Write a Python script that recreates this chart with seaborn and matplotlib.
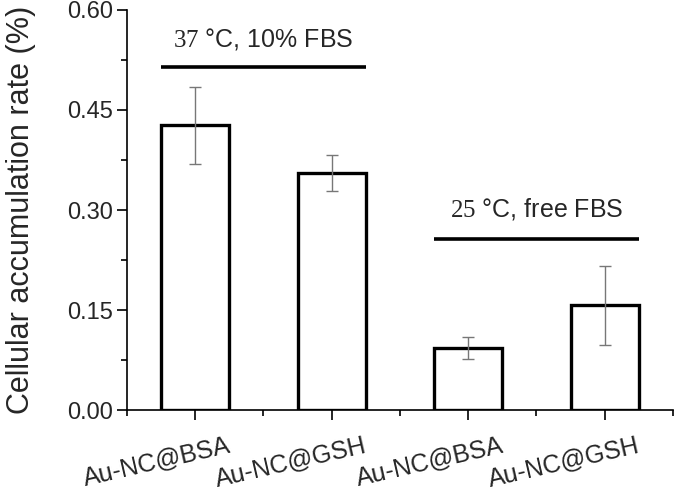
import matplotlib
matplotlib.use("Agg")
import matplotlib.pyplot as plt
import matplotlib.transforms as mtransforms
from matplotlib.ticker import MultipleLocator
import seaborn as sns
import pandas as pd

# ---- data ----
bar_ids = ["BSA_37", "GSH_37", "BSA_25", "GSH_25"]
tick_labels = ["Au-NC@BSA", "Au-NC@GSH", "Au-NC@BSA", "Au-NC@GSH"]
values = [0.427, 0.356, 0.093, 0.157]
errors = [0.058, 0.027, 0.017, 0.059]
group_labels = ["37", "25"]
group_texts = [" °C, 10% FBS", " °C, free FBS"]
group_members = [[0, 1], [2, 3]]
group_line_y = [0.515, 0.256]
group_text_y = [0.556, 0.302]
y_label = "Cellular accumulation rate (%)"

sns.set_theme(style="ticks")
plt.rcParams["font.family"] = ["Liberation Sans", "DejaVu Sans"]
plt.rcParams["mathtext.fontset"] = "custom"
plt.rcParams["mathtext.rm"] = "Liberation Serif"

df = pd.DataFrame({"id": bar_ids, "value": values})

fig = plt.figure(figsize=(6.75, 4.93), dpi=100)
ax = fig.add_axes([0.188, 0.168, 0.809, 0.812])

bw = 0.5
sns.barplot(data=df, x="id", y="value", order=bar_ids, ax=ax, width=bw,
            color="white", edgecolor="black", linewidth=2.4, errorbar=None,
            saturation=1)
ax.errorbar(range(len(values)), values, yerr=errors, fmt="none",
            ecolor="#777777", elinewidth=1.0, capsize=4, capthick=1.0, zorder=5)

ax.set_xlim(-0.5, len(values) - 0.5)
ax.set_ylim(0, 0.6)
ax.yaxis.set_major_locator(MultipleLocator(0.15))
ax.yaxis.set_minor_locator(MultipleLocator(0.075))
ax.set_yticklabels([f"{v:.2f}" for v in ax.get_yticks()])
ax.set_xticks(range(len(values)))
ax.set_xticks([i - 0.5 for i in range(len(values) + 1)], minor=True)
ax.set_xticklabels([])

# rotated category labels, drawn at the category positions
lab_tr = ax.get_xaxis_transform() + mtransforms.ScaledTranslation(
    32 / 100, -23 / 100, fig.dpi_scale_trans)
for i, lab in enumerate(tick_labels):
    ax.text(i, 0, lab, transform=lab_tr, rotation=13, ha="right", va="top",
            rotation_mode="anchor", fontsize=18, clip_on=False)

ax.tick_params(axis="both", which="major", direction="out", length=7, width=1.2,
               labelsize=17, color="black")
ax.tick_params(axis="both", which="minor", direction="out", length=4, width=1.2,
               color="black")
ax.tick_params(axis="y", which="major", pad=3)
ax.set_xlabel("")
ax.set_ylabel(y_label, fontsize=22, labelpad=22)

for side in ["top", "right"]:
    ax.spines[side].set_visible(False)
for side in ["left", "bottom"]:
    ax.spines[side].set_linewidth(1.2)
    ax.spines[side].set_color("black")

for members, num, txt, ly, ty in zip(group_members, group_labels, group_texts,
                                     group_line_y, group_text_y):
    x0 = min(members) - bw / 2
    x1 = max(members) + bw / 2
    ax.plot([x0, x1], [ly, ly], color="black", lw=2.6, solid_capstyle="butt")
    ax.text((x0 + x1) / 2, ty, r"$\mathrm{" + num + "}$" + txt, ha="center",
            va="center", fontsize=18)

fig.savefig("out.png", dpi=100)
